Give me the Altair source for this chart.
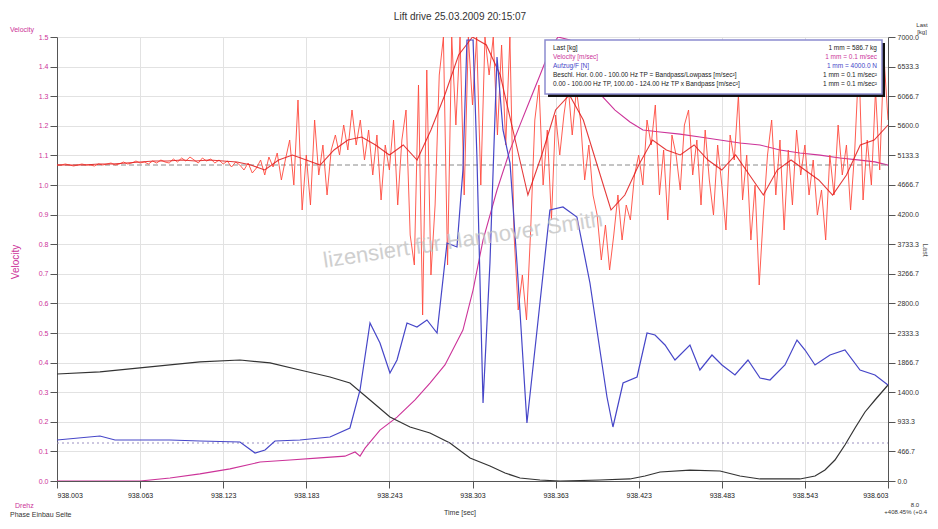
import altair as alt
import pandas as pd

# ---------------- data ----------------
TICK_TIMES = [938.003, 938.063, 938.123, 938.183, 938.243, 938.303,
              938.363, 938.423, 938.483, 938.543, 938.603]
LEFT_TICKS = [0.0, 0.1, 0.2, 0.3, 0.4, 0.5, 0.6, 0.7, 0.8, 0.9,
              1.0, 1.1, 1.2, 1.3, 1.4, 1.5]
RIGHT_TICKS = [0.0, 466.7, 933.3, 1400.0, 1866.7, 2333.3, 2800.0, 3266.7,
               3733.3, 4200.0, 4666.7, 5133.3, 5600.0, 6066.7, 6533.3, 7000.0]

# Load [kg] (black, right axis)
LOAD_T = [938.0030, 938.0340, 938.0701, 938.1062, 938.1351, 938.1568, 938.1784,
          938.2001, 938.2145, 938.2290, 938.2434, 938.2579, 938.2723, 938.2867,
          938.3012, 938.3156, 938.3265, 938.3373, 938.3517, 938.3662, 938.3950,
          938.4167, 938.4275, 938.4384, 938.4600, 938.4817, 938.4961, 938.5106,
          938.5394, 938.5503, 938.5575, 938.5647, 938.5719, 938.5792, 938.5864,
          938.5936, 938.6030]
LOAD_V = [1687, 1719, 1798, 1877, 1908, 1861, 1750, 1640, 1545, 1277, 1009, 852,
          757, 599, 363, 237, 126, 47, 16, 0, 16, 32, 79, 142, 173, 158, 79, 32,
          32, 79, 173, 331, 568, 836, 1088, 1277, 1514]

# Velocity [m/sec] (magenta, left axis)
VEL_T = [938.0030, 938.0629, 938.0846, 938.1062, 938.1279, 938.1496, 938.1712,
         938.1929, 938.2109, 938.2182, 938.2218, 938.2254, 938.2362, 938.2485,
         938.2615, 938.2723, 938.2831, 938.2961, 938.3034, 938.3106, 938.3207,
         938.3301, 938.3373, 938.3445, 938.3517, 938.3589, 938.3647, 938.3734,
         938.3806, 938.3878, 938.3972, 938.4059, 938.4167, 938.4261, 938.4384,
         938.4528, 938.4672, 938.4817, 938.4961, 938.5106, 938.5250, 938.5394,
         938.5539, 938.5683, 938.5828, 938.5936, 938.6030]
VEL_V = [0.000, 0.000, 0.010, 0.024, 0.041, 0.064, 0.071, 0.078, 0.084, 0.098,
         0.084, 0.111, 0.172, 0.216, 0.274, 0.331, 0.392, 0.510, 0.645, 0.814,
         0.983, 1.118, 1.203, 1.287, 1.371, 1.456, 1.500, 1.490, 1.439, 1.371,
         1.297, 1.253, 1.213, 1.186, 1.179, 1.172, 1.162, 1.152, 1.142, 1.135,
         1.118, 1.108, 1.101, 1.091, 1.084, 1.078, 1.067]

# Lift force (blue, hidden axis)
FORCE_T = [938.0030, 938.0340, 938.0449, 938.0846, 938.1062, 938.1351, 938.1460,
           938.1532, 938.1604, 938.1784, 938.2001, 938.2145, 938.2218, 938.2290,
           938.2362, 938.2434, 938.2485, 938.2557, 938.2629, 938.2701, 938.2774,
           938.2846, 938.2918, 938.2961, 938.2990, 938.3034, 938.3062, 938.3106,
           938.3156, 938.3207, 938.3250, 938.3301, 938.3351, 938.3423, 938.3496,
           938.3589, 938.3683, 938.3784, 938.3878, 938.3950, 938.4001, 938.4044,
           938.4117, 938.4218, 938.4290, 938.4348, 938.4420, 938.4492, 938.4600,
           938.4672, 938.4759, 938.4831, 938.4925, 938.5019, 938.5106, 938.5178,
           938.5286, 938.5373, 938.5431, 938.5503, 938.5611, 938.5719, 938.5828,
           938.5936, 938.6030]
FORCE_V = [0.03, 0.07, 0.03, 0.03, 0.02, 0.01, -0.10, -0.07, 0.02, 0.03, 0.06,
           0.15, 0.53, 1.20, 1.00, 0.70, 0.83, 1.20, 1.16, 1.23, 1.10, 2.00, 1.96,
           2.73, 4.03, 4.03, 2.86, 0.40, 1.80, 3.86, 3.13, 2.80, 1.80, 0.20, 1.13,
           2.33, 2.36, 2.26, 1.60, 0.93, 0.46, 0.16, 0.60, 0.66, 1.10, 1.08, 0.98,
           0.83, 0.98, 0.73, 0.88, 0.78, 0.68, 0.83, 0.65, 0.63, 0.78, 1.03, 0.93,
           0.78, 0.88, 0.93, 0.73, 0.68, 0.58]

# Acceleration, raw (light red), sampled every 3 ms from 938.003 s
ACC_START = 938.003
ACC_DT = 0.003
ACC_RAW = [0.00, 0.00, 0.01, 0.00, -0.01, 0.00, 0.01, 0.00, 0.00, -0.01, 0.01, 0.00,
           0.01, 0.02, 0.00, 0.01, 0.03, 0.01, 0.02, 0.04, 0.02, 0.03, 0.01, 0.04,
           0.02, 0.05, 0.03, 0.02,
           0.06, 0.03, 0.07, 0.04, 0.08, 0.05, 0.02, 0.07, 0.04, 0.06, 0.02, 0.05,
           0.01, 0.04, -0.02, 0.03, 0.00, -0.05, 0.02, -0.08,
           -0.03, 0.05, -0.10, 0.08, -0.02, 0.12, -0.15, 0.06, 0.25, -0.20,
           0.65, -0.45, 0.10, -0.40, 0.45, -0.10, 0.20, -0.30, 0.15,
           0.30, 0.10, 0.40, 0.15, 0.55, 0.20, 0.45, 0.05, 0.35,
           -0.10, 0.30, -0.35, 0.20, -0.05, 0.45, -0.40, 0.25, 0.55,
           -0.70, -1.00, 0.80, -1.50, 0.95, -1.10, -0.40, 0.90, 1.28,
           -1.00, 1.28, 0.40, 1.28, -0.30, 1.28, 0.60, 1.28, -0.20, 1.28,
           0.90, 1.28, 0.30, 1.20, 0.20, 1.28, -0.70, -1.45, -1.10,
           -1.55, -0.65, 0.45, 0.80, -0.20, 0.35, -0.55, 0.50, 0.10,
           0.50, 0.80, 0.30, 0.75, 0.45, -0.15, 0.20, -0.30, -0.50,
           -0.95, -0.60, -1.05, -0.70, -0.30, -0.75, -0.40, -0.55, -0.10,
           0.10, -0.20, 0.45, 0.20, 0.60, -0.30, 0.15, -0.55, 0.30,
           0.10, -0.25, 0.40, 0.55, -0.10, 0.25, -0.40, 0.35, -0.15,
           -0.50, 0.20, -0.20, -0.65, 0.30, 0.05, 0.70, -0.35, 0.10,
           -0.75, -0.20, -1.20, -0.50, 0.10, 0.45, -0.30, 0.25, -0.65,
           0.15, -0.40, 0.35, -0.10, 0.20, -0.30, 0.05, -0.50, -0.25,
           -0.75, 0.10, -0.30, 0.40, -0.10, 0.20, -0.45, 0.15, 1.05,
           -0.35, 0.25, -0.20, 0.75, -0.05, 1.10, 0.45]

# Acceleration, filtered (darker red), sampled every 10 ms
ACCF_DT = 0.010
ACC_FILT = [0.00, 0.00, 0.00, 0.01, 0.01, 0.02, 0.03, 0.04, 0.04, 0.05, 0.04, 0.05,
            0.04, 0.03, 0.00, -0.05, 0.05, 0.10, 0.05, 0.00, 0.15, 0.25, 0.28, 0.20,
            0.10, 0.20, 0.05, 0.35, 0.70, 1.10, 1.28, 1.20, 0.90, 0.30, -0.30, 0.10,
            0.55, 0.70, 0.45, 0.00, -0.45, -0.30, 0.00, 0.25, 0.15, 0.10, 0.20, 0.05,
            -0.05, 0.10, -0.10, -0.30, -0.05, 0.05, -0.05, -0.15, -0.30, -0.10, 0.20,
            0.25, 0.40]

LEGEND_LEFT = ["Last [kg]", "Velocity [m/sec]", "Aufzug/F [N]",
               "Beschl. Hor. 0.00 - 100.00 Hz TP = Bandpass/Lowpass [m/sec\u00b2]",
               "0.00 - 100.00 Hz TP, 100.00 - 124.00 Hz TP x Bandpass [m/sec\u00b2]"]
LEGEND_RIGHT = ["1 mm = 586.7 kg", "1 mm = 0.1 m/sec", "1 mm = 4000.0 N",
                "1 mm = 0.1 m/sec\u00b2", "1 mm = 0.1 m/sec\u00b2"]

# ---------------- styling ----------------
W, H = 831, 444
FONT = "Liberation Sans"
PINK = "#cc3399"
BLUE = "#4646c8"
BLACK = "#333333"
RED_RAW = "#ff4a3d"
RED_F = "#e01818"

X_DOMAIN = [TICK_TIMES[0], TICK_TIMES[-1]]
ACC_DOMAIN = [-3.16, 1.28]
FORCE_DOMAIN = [-0.38, 4.06]

load_df = pd.DataFrame({"t": LOAD_T, "v": LOAD_V})
vel_df = pd.DataFrame({"t": VEL_T, "v": VEL_V})
force_df = pd.DataFrame({"t": FORCE_T, "v": FORCE_V})
raw_df = pd.DataFrame({"t": [ACC_START + ACC_DT * i for i in range(len(ACC_RAW))],
                       "v": ACC_RAW})
filt_df = pd.DataFrame({"t": [ACC_START + ACCF_DT * i for i in range(len(ACC_FILT))],
                        "v": ACC_FILT})

x_axis = alt.Axis(values=TICK_TIMES, format=".3f", title=None, labelFontSize=7,
                  labelColor="#222", tickSize=7, tickColor="#555", domainColor="#555",
                  labelPadding=3, grid=True, gridColor="#e2e2e2", labelFont=FONT)


def xenc():
    return alt.X("t:Q", scale=alt.Scale(domain=X_DOMAIN, nice=False, zero=False),
                 axis=x_axis)


def hidden_y(domain):
    return alt.Y("v:Q", scale=alt.Scale(domain=domain, nice=False, zero=False), axis=None)


red_raw = alt.Chart(raw_df).mark_line(color=RED_RAW, strokeWidth=0.9, clip=True).encode(
    x=xenc(), y=hidden_y(ACC_DOMAIN))
red_filt = alt.Chart(filt_df).mark_line(color=RED_F, strokeWidth=1.1, clip=True,
                                        opacity=0.85).encode(
    x=xenc(), y=hidden_y(ACC_DOMAIN))

zero_acc = alt.Chart(pd.DataFrame({"z": [0]})).mark_rule(
    color="#8a8a8a", strokeDash=[5, 3], strokeWidth=1).encode(
    x=alt.value(0), x2=alt.value(W),
    y=alt.Y(datum=0, scale=alt.Scale(domain=ACC_DOMAIN, nice=False, zero=False), axis=None))
zero_force = alt.Chart(pd.DataFrame({"z": [0]})).mark_rule(
    color="#9a90c0", strokeDash=[2, 3], strokeWidth=1).encode(
    x=alt.value(0), x2=alt.value(W),
    y=alt.Y(datum=0, scale=alt.Scale(domain=FORCE_DOMAIN, nice=False, zero=False), axis=None))

load = alt.Chart(load_df).mark_line(color=BLACK, strokeWidth=1.2, clip=True).encode(
    x=xenc(),
    y=alt.Y("v:Q", scale=alt.Scale(domain=[0, 7000], nice=False, zero=False),
            axis=alt.Axis(orient="right", values=RIGHT_TICKS, format=".1f", title=None,
                          labelFontSize=7, labelColor="#333", tickSize=7,
                          tickColor="#555", domainColor="#555", grid=False,
                          labelFont=FONT)))

vel = alt.Chart(vel_df).mark_line(color=PINK, strokeWidth=1.1, clip=True).encode(
    x=xenc(),
    y=alt.Y("v:Q", scale=alt.Scale(domain=[0, 1.5], nice=False, zero=False),
            axis=alt.Axis(orient="left", values=LEFT_TICKS, format=".1f", title=None,
                          labelFontSize=7, labelColor=PINK, tickSize=7,
                          tickColor="#555", domainColor="#555", grid=True,
                          gridColor="#e2e2e2", labelFont=FONT)))

force = alt.Chart(force_df).mark_line(color=BLUE, strokeWidth=1.2, clip=True).encode(
    x=xenc(), y=hidden_y(FORCE_DOMAIN))

one = pd.DataFrame({"k": [0]})


def txt(s, x, y, size=7, color="#222", align="left", angle=0, **kw):
    return alt.Chart(one).mark_text(text=s, fontSize=size, color=color, align=align,
                                    baseline="middle", angle=angle, font=FONT, **kw).encode(
        x=alt.value(x), y=alt.value(y))


# page -> plot coordinates: plot origin at page (57, 37)
OX, OY = 57, 37
notes = [
    txt("Lift drive 25.03.2009 20:15:07", 460 - OX, 17 - OY, size=10, color="#333",
        align="center"),
    txt("Velocity", 22 - OX, 30 - OY, size=7, color=PINK, align="center"),
    txt("Last", 922 - OX, 25 - OY, size=6, color="#333", align="center"),
    txt("[kg]", 922 - OX, 32 - OY, size=6, color="#333", align="center"),
    txt("Velocity", 16 - OX, 262 - OY, size=10, color=PINK, align="center", angle=270),
    txt("Last", 925 - OX, 250 - OY, size=7, color="#555", align="center", angle=90),
    txt("Time  [sec]", 460 - OX, 513 - OY, size=7, color="#333", align="center"),
    txt("Drehz", 15 - OX, 506 - OY, size=7, color=PINK),
    txt("Phase Einbau Seite", 10 - OX, 515 - OY, size=7, color="#333"),
    txt("8.0", 915 - OX, 505 - OY, size=6, color="#333", align="center"),
    txt("+408.45% (+0.4", 927 - OX, 512 - OY, size=6, color="#333", align="right"),
    txt("lizensiert f\u00fcr Hannover Smith", 463 - OX, 240 - OY, size=22,
        color="#c4c4c4", align="center", angle=351.5, opacity=0.8),
]

shadow = alt.Chart(one).mark_rect(color="#111").encode(
    x=alt.value(548 - OX), x2=alt.value(885 - OX),
    y=alt.value(43 - OY), y2=alt.value(97 - OY))
box = alt.Chart(one).mark_rect(fill="white", stroke="#8c8cd0", strokeWidth=1.5).encode(
    x=alt.value(545 - OX), x2=alt.value(882 - OX),
    y=alt.value(40 - OY), y2=alt.value(94 - OY))

leg_colors = ["#222", PINK, BLUE, "#222", "#222"]
legend = []
for i, (l, r) in enumerate(zip(LEGEND_LEFT, LEGEND_RIGHT)):
    yy = 48 + 9 * i - OY
    legend.append(txt(l, 553 - OX, yy, size=6.5, color=leg_colors[i]))
    legend.append(txt(r, 877 - OX, yy, size=6.5, color=leg_colors[i], align="right"))

chart = alt.layer(
    vel, load, zero_acc, zero_force, red_raw, red_filt, force,
    *notes, shadow, box, *legend
).resolve_scale(y="independent").properties(
    width=W, height=H,
    autosize=alt.AutoSizeParams(type="none"),
    padding={"left": 49, "top": 29, "right": 42, "bottom": 40},
    background="white",
).configure_view(strokeWidth=0)

chart.save("out.html", embed_options={"renderer": "svg", "actions": False})
